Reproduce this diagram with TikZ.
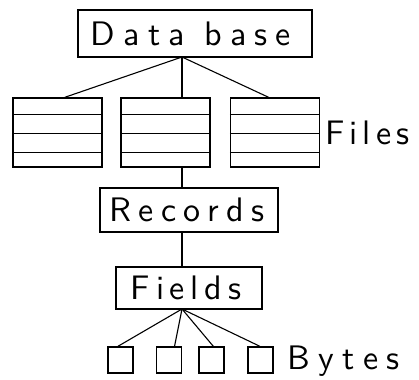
\documentclass[tikz,border=0pt]{standalone}
\usepackage{fontspec}
\setsansfont{lmsans10-regular.otf}
\usetikzlibrary{calc}
\tikzset{
  box/.style={draw, line width=1.3pt, rectangle, inner sep=0pt},
  filebox/.style={box, minimum width=89pt, minimum height=69pt},
  bytebox/.style={box, minimum width=25pt, minimum height=26pt},
  conn/.style={line width=1.1pt},
  lbl/.style={font=\sffamily\fontsize{34}{34}\selectfont, inner sep=0pt},
}
\begin{document}
\begin{tikzpicture}[x=1pt,y=-1pt]
\fill[white] (0,0) rectangle (419,379);
\useasboundingbox (0,0) rectangle (419,379);
% top box
\node[box, lbl, minimum width=234pt, minimum height=47pt] (db) at (195,33.5) {\addfontfeature{LetterSpace=24}Data base\hspace*{8pt}};
\coordinate (dbapex) at (182,57);
% file boxes
\node[filebox] (f1) at (57.5,132.5) {};
\node[filebox] (f2) at (165.5,132.5) {};
\node[filebox] (f3) at (275,132.5) {};
\foreach \f in {f1,f2,f3}{
  \foreach \t in {0.25,0.51,0.78}{
    \draw[conn] ($(\f.north west)!\t!(\f.south west)$) -- ($(\f.north east)!\t!(\f.south east)$);
  }
}
\node[lbl, anchor=base west] (files) at (325,145) {\addfontfeature{LetterSpace=15}Files};
% records and fields
\node[box, lbl, minimum width=178pt, minimum height=44pt] (rec) at (189,210) {\addfontfeature{LetterSpace=22}Records\hspace*{4pt}};
\node[box, lbl, minimum width=146pt, minimum height=42pt] (fld) at (189,288) {\addfontfeature{LetterSpace=17}Fields\hspace*{6pt}};
\coordinate (fapex) at (182,309);
% bytes
\node[bytebox] (b1) at (120.5,360) {};
\node[bytebox] (b2) at (169,360) {};
\node[bytebox] (b3) at (211.5,360) {};
\node[bytebox] (b4) at (260.5,360) {};
\node[lbl, anchor=base west] (bytes) at (287,369) {\addfontfeature{LetterSpace=25}Bytes};
% connectors
\draw[conn] (dbapex) -- ($(f1.north west)!0.58!(f1.north east)$);
\draw[conn] (dbapex) -- (dbapex |- f2.north);
\draw[conn] (dbapex) -- ($(f3.north west)!0.43!(f3.north east)$);
\draw[conn] (f2.south -| dbapex) -- (rec.north -| dbapex);
\draw[conn] (rec.south -| dbapex) -- (fld.north -| dbapex);
\draw[conn] (fapex) -- ($(b1.north west)!0.4!(b1.north east)$);
\draw[conn] (fapex) -- ($(b2.north west)!0.71!(b2.north east)$);
\draw[conn] (fapex) -- ($(b3.north west)!0.57!(b3.north east)$);
\draw[conn] (fapex) -- ($(b4.north west)!0.48!(b4.north east)$);
\end{tikzpicture}
\end{document}
